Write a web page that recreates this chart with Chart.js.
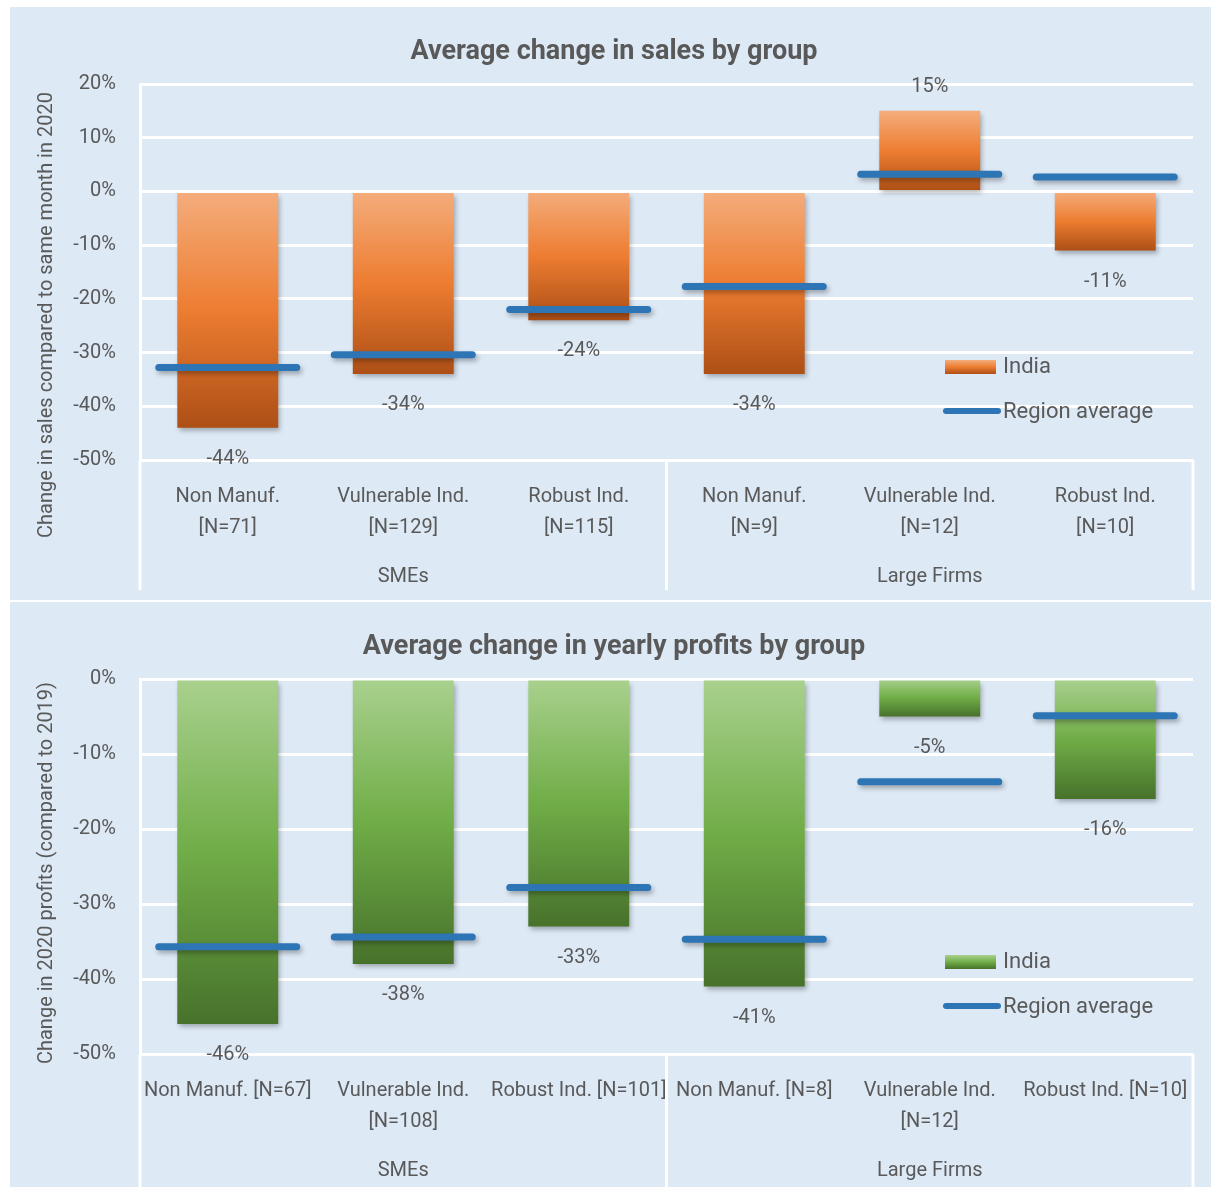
<!DOCTYPE html>
<html>
<head>
<meta charset="utf-8">
<script src="https://cdn.jsdelivr.net/npm/chart.js@4.4.1/dist/chart.umd.min.js"></script>
<style>
  body { margin: 0; background: #fff; width: 1213px; height: 1187px; overflow: hidden; position: relative; }
  .panel { position: absolute; left: 10px; width: 1201px; background: #dde9f5; }
  #p1 { top: 7px; height: 593px; }
  #p2 { top: 602px; height: 585px; }
</style>
</head>
<body>
<div class="panel" id="p1"><canvas id="salesChart" width="1201" height="593"></canvas></div>
<div class="panel" id="p2"><canvas id="profitChart" width="1201" height="585"></canvas></div>
<script>
const FONT = 'Roboto, "Noto Sans", sans-serif';
const TEXT = '#595959';

// group labels (second level of the x axis)
const groups = ['SMEs', 'Large Firms'];

// sales chart
const salesCategories = [['Non Manuf.', '[N=71]'], ['Vulnerable Ind.', '[N=129]'], ['Robust Ind.', '[N=115]'],
                         ['Non Manuf.', '[N=9]'], ['Vulnerable Ind.', '[N=12]'], ['Robust Ind.', '[N=10]']];
const salesIndia = [-44, -34, -24, -34, 15, -11];
const salesRegion = [-32.8, -30.4, -22, -17.7, 3.2, 2.7];
const salesAxis = { min: -50, max: 20, step: 10 };

// profits chart
const profitCategories = ['Non Manuf. [N=67]', ['Vulnerable Ind.', '[N=108]'], 'Robust Ind. [N=101]',
                          'Non Manuf. [N=8]', ['Vulnerable Ind.', '[N=12]'], 'Robust Ind. [N=10]'];
const profitIndia = [-46, -38, -33, -41, -5, -16];
const profitRegion = [-35.7, -34.4, -27.8, -34.7, -13.7, -4.9];
const profitAxis = { min: -50, max: 0, step: 10 };

const orangeStops = ['#f4ad7c', '#ed7d31', '#ad4f16'];
const greenStops = ['#a9d18e', '#70ad47', '#47722b'];
const blue = '#2e75b6';

function gradient(ctx, top, bottom, stops) {
  const g = ctx.createLinearGradient(0, top, 0, bottom);
  g.addColorStop(0, stops[0]);
  g.addColorStop(0.5, stops[1]);
  g.addColorStop(1, stops[2]);
  return g;
}

function barFill(stops) {
  return c => {
    const chart = c.chart;
    if (!chart.chartArea || c.type !== 'data') return stops[1];
    const y = chart.scales.y;
    const v = c.raw;
    return gradient(chart.ctx, y.getPixelForValue(Math.max(v, 0)), y.getPixelForValue(Math.min(v, 0)), stops);
  };
}

// draws shadows, value labels, the in-plot legend, the y title and the group row of the x axis
const decor = {
  id: 'decor',
  beforeDatasetsDraw(chart) {
    const ctx = chart.ctx;
    ctx.save();
    ctx.shadowColor = 'rgba(0,0,0,0.3)';
    ctx.shadowBlur = 5;
    ctx.shadowOffsetX = 2;
    ctx.shadowOffsetY = 3;
    ctx.lineCap = 'round';
  },
  afterDatasetsDraw(chart, args, o) {
    const ctx = chart.ctx;
    ctx.restore();
    const area = chart.chartArea;
    const x = chart.scales.x;

    // value labels
    const barMeta = chart.getDatasetMeta(1);
    const values = chart.data.datasets[1].data;
    ctx.fillStyle = TEXT;
    ctx.font = '20px ' + FONT;
    ctx.textAlign = 'center';
    ctx.textBaseline = 'middle';
    barMeta.data.forEach((el, i) => {
      const v = values[i];
      ctx.fillText(v + '%', el.x, v < 0 ? el.y + 31 : el.y - 24);
    });

    // axis box below the plot
    const mid = (x.getPixelForValue(2) + x.getPixelForValue(3)) / 2;
    ctx.strokeStyle = '#ffffff';
    ctx.lineWidth = 3;
    ctx.beginPath();
    ctx.moveTo(area.left, area.bottom);
    ctx.lineTo(area.left, o.boxBottom);
    ctx.moveTo(mid, area.bottom);
    ctx.lineTo(mid, o.boxBottom);
    ctx.moveTo(area.right, area.bottom);
    ctx.lineTo(area.right, o.boxBottom);
    ctx.stroke();

    // group labels
    ctx.font = '20px ' + FONT;
    ctx.fillText(groups[0], x.getPixelForValue(1), o.groupY);
    ctx.fillText(groups[1], x.getPixelForValue(4), o.groupY);

    // y title
    ctx.save();
    ctx.translate(o.titleX, o.titleY);
    ctx.rotate(-Math.PI / 2);
    ctx.fillText(o.yTitle, 0, 0);
    ctx.restore();

    // legend
    const ds = chart.data.datasets;
    ctx.font = '22px ' + FONT;
    ctx.textAlign = 'left';
    ctx.fillStyle = gradient(ctx, 353, 367, o.stops);
    ctx.fillRect(935, 353, 51, 14);
    ctx.fillStyle = TEXT;
    ctx.fillText(ds[1].label, 993, 360);
    ctx.strokeStyle = blue;
    ctx.lineWidth = 6;
    ctx.lineCap = 'round';
    ctx.beginPath();
    ctx.moveTo(936, 404);
    ctx.lineTo(988, 404);
    ctx.stroke();
    ctx.fillText(ds[0].label, 993, 405);
  }
};

function makeChart(id, title, cats, india, region, axis, stops, o) {
  new Chart(document.getElementById(id), {
    type: 'bar',
    data: {
      labels: cats,
      datasets: [{
        type: 'line',
        label: 'Region average',
        data: region,
        showLine: false,
        pointStyle: 'line',
        pointRadius: 69,
        pointHoverRadius: 69,
        pointBorderWidth: 7,
        pointBorderColor: blue,
        borderColor: blue,
        backgroundColor: blue,
        order: 1
      }, {
        label: 'India',
        data: india,
        backgroundColor: barFill(stops),
        categoryPercentage: 1,
        barPercentage: 0.575,
        order: 2
      }]
    },
    options: {
      responsive: false,
      animation: false,
      layout: { autoPadding: false, padding: { left: 25, right: 18, top: 0, bottom: 0 } },
      plugins: {
        legend: { display: false },
        tooltip: { enabled: false },
        title: {
          display: true,
          text: title,
          color: TEXT,
          font: { family: FONT, size: 27, weight: 'bold', lineHeight: 1.2 },
          padding: { top: 29.5, bottom: 15.1 }
        },
        decor: o
      },
      scales: {
        x: {
          grid: { display: false },
          border: { display: false },
          ticks: {
            color: TEXT,
            font: { family: FONT, size: 20, lineHeight: 1.55 },
            padding: 13,
            maxRotation: 0,
            autoSkip: false
          },
          afterFit: s => { s.height = o.xHeight; s.paddingLeft = 0; s.paddingRight = 0; }
        },
        y: {
          min: axis.min,
          max: axis.max,
          grid: { color: '#ffffff', lineWidth: 3, drawTicks: false },
          border: { display: true, color: '#ffffff', width: 3 },
          ticks: {
            stepSize: axis.step,
            color: TEXT,
            font: { family: FONT, size: 20 },
            padding: 24,
            callback: v => v + '%'
          },
          afterFit: s => { s.width = 105; }
        }
      }
    },
    plugins: [decor]
  });
}

makeChart('salesChart', 'Average change in sales by group', salesCategories, salesIndia, salesRegion, salesAxis, orangeStops,
  { xHeight: 140, boxBottom: 583, groupY: 570, titleX: 37, titleY: 308, stops: orangeStops,
    yTitle: 'Change in sales compared to same month in 2020' });

makeChart('profitChart', 'Average change in yearly profits by group', profitCategories, profitIndia, profitRegion, profitAxis, greenStops,
  { xHeight: 133, boxBottom: 585, groupY: 569, titleX: 37, titleY: 271, stops: greenStops,
    yTitle: 'Change in 2020 profits (compared to 2019)' });
</script>
</body>
</html>
